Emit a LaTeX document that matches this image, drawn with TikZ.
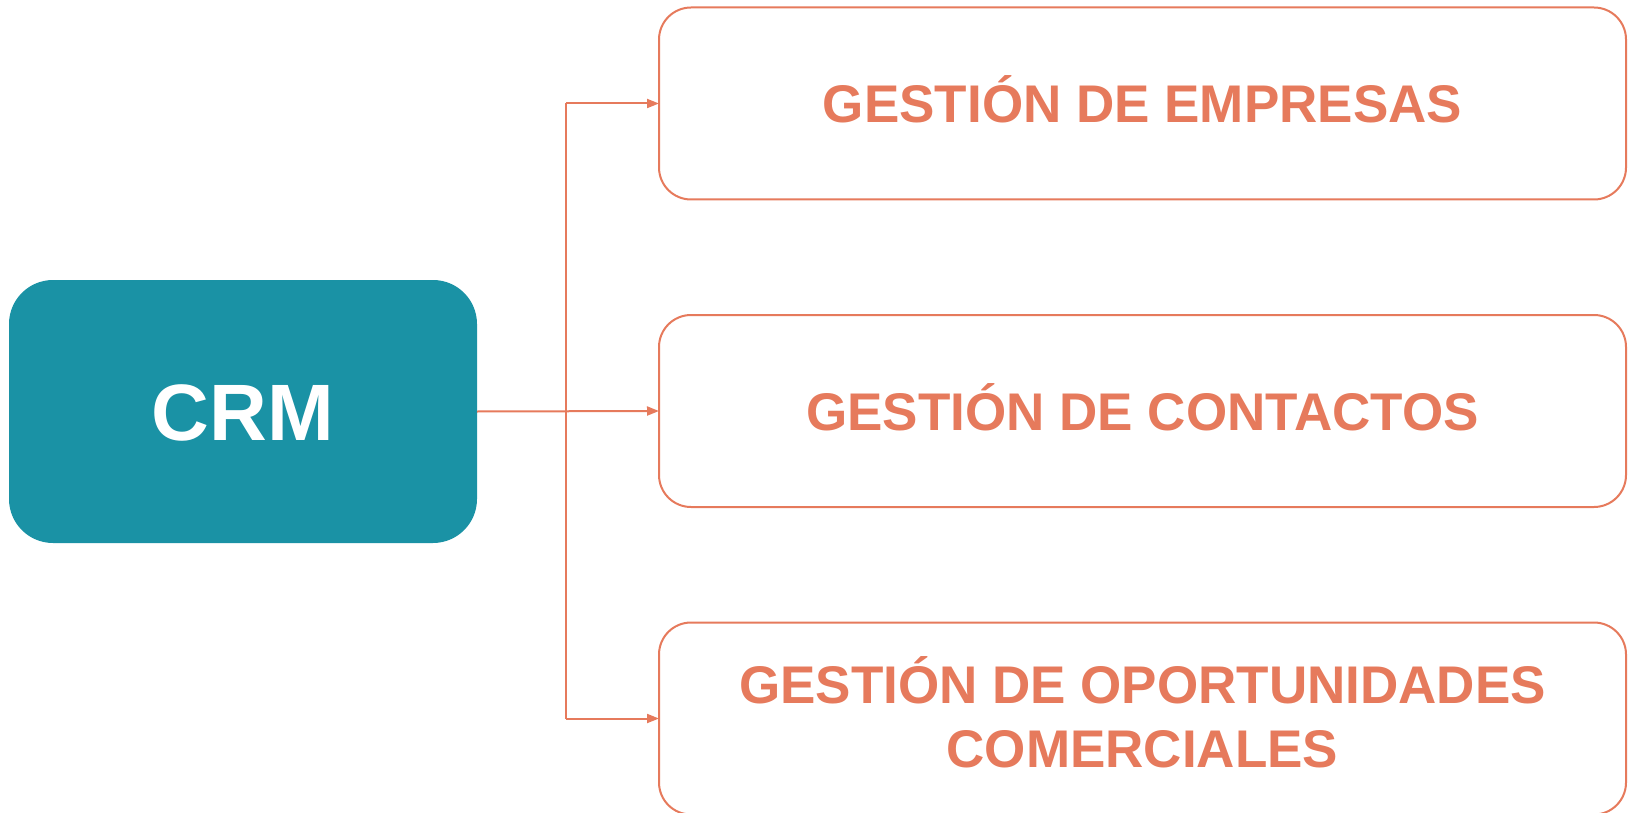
\documentclass[tikz,border=0pt]{standalone}
\usepackage{fontspec}
\setmainfont{Liberation Sans}
\usetikzlibrary{arrows.meta}
\definecolor{teal1}{HTML}{1A92A5}
\definecolor{coral}{HTML}{E67A5C}
\begin{document}
\begin{tikzpicture}[x=1pt,y=-1pt,
  crmbox/.style={fill=teal1,draw=none,rounded corners=44pt,minimum width=468pt,minimum height=263pt,inner sep=0pt,outer sep=0pt},
  itembox/.style={draw=coral,line width=2pt,fill=white,rounded corners=32pt,minimum width=967pt,minimum height=192pt,inner sep=0pt,outer sep=0pt},
  itemtext/.style={text=coral,font=\fontsize{53}{64}\selectfont\bfseries,align=center,inner sep=0pt},
  crmtext/.style={text=white,font=\fontsize{80}{90}\selectfont\bfseries,inner sep=0pt},
  conn/.style={draw=coral,line width=2pt},
  arr/.style={conn,-{Triangle[length=12pt,width=9pt]}}
]
\useasboundingbox (0,0) rectangle (1630,813);
\clip (0,0) rectangle (1630,813);
\node[crmbox] (crm) at (243,411.5) {};
\node[crmtext,anchor=base] (crmlabel) at (243,440) {CRM};
\node[itembox] (b1) at (1142.5,103.5) {};
\node[itembox] (b2) at (1142.5,411) {};
\node[itembox] (b3) at (1142.5,718.5) {};
\node[itemtext,anchor=base] (t1) at (1142.5,123) {GESTIÓN DE EMPRESAS};
\node[itemtext,anchor=base] (t2) at (1142.5,430.5) {GESTIÓN DE CONTACTOS};
\node[itemtext] (t3) at (1142.5,712) {GESTIÓN DE OPORTUNIDADES\\COMERCIALES};
\coordinate (jt) at (566,103.5);
\coordinate (jb) at (566,718.5);
\draw[conn] (jt) -- (jb);
\draw[arr] (jt) -- (b1.west);
\draw[arr] (crm.east) -- (b2.west);
\draw[arr] (jb) -- (b3.west);
\end{tikzpicture}
\end{document}
